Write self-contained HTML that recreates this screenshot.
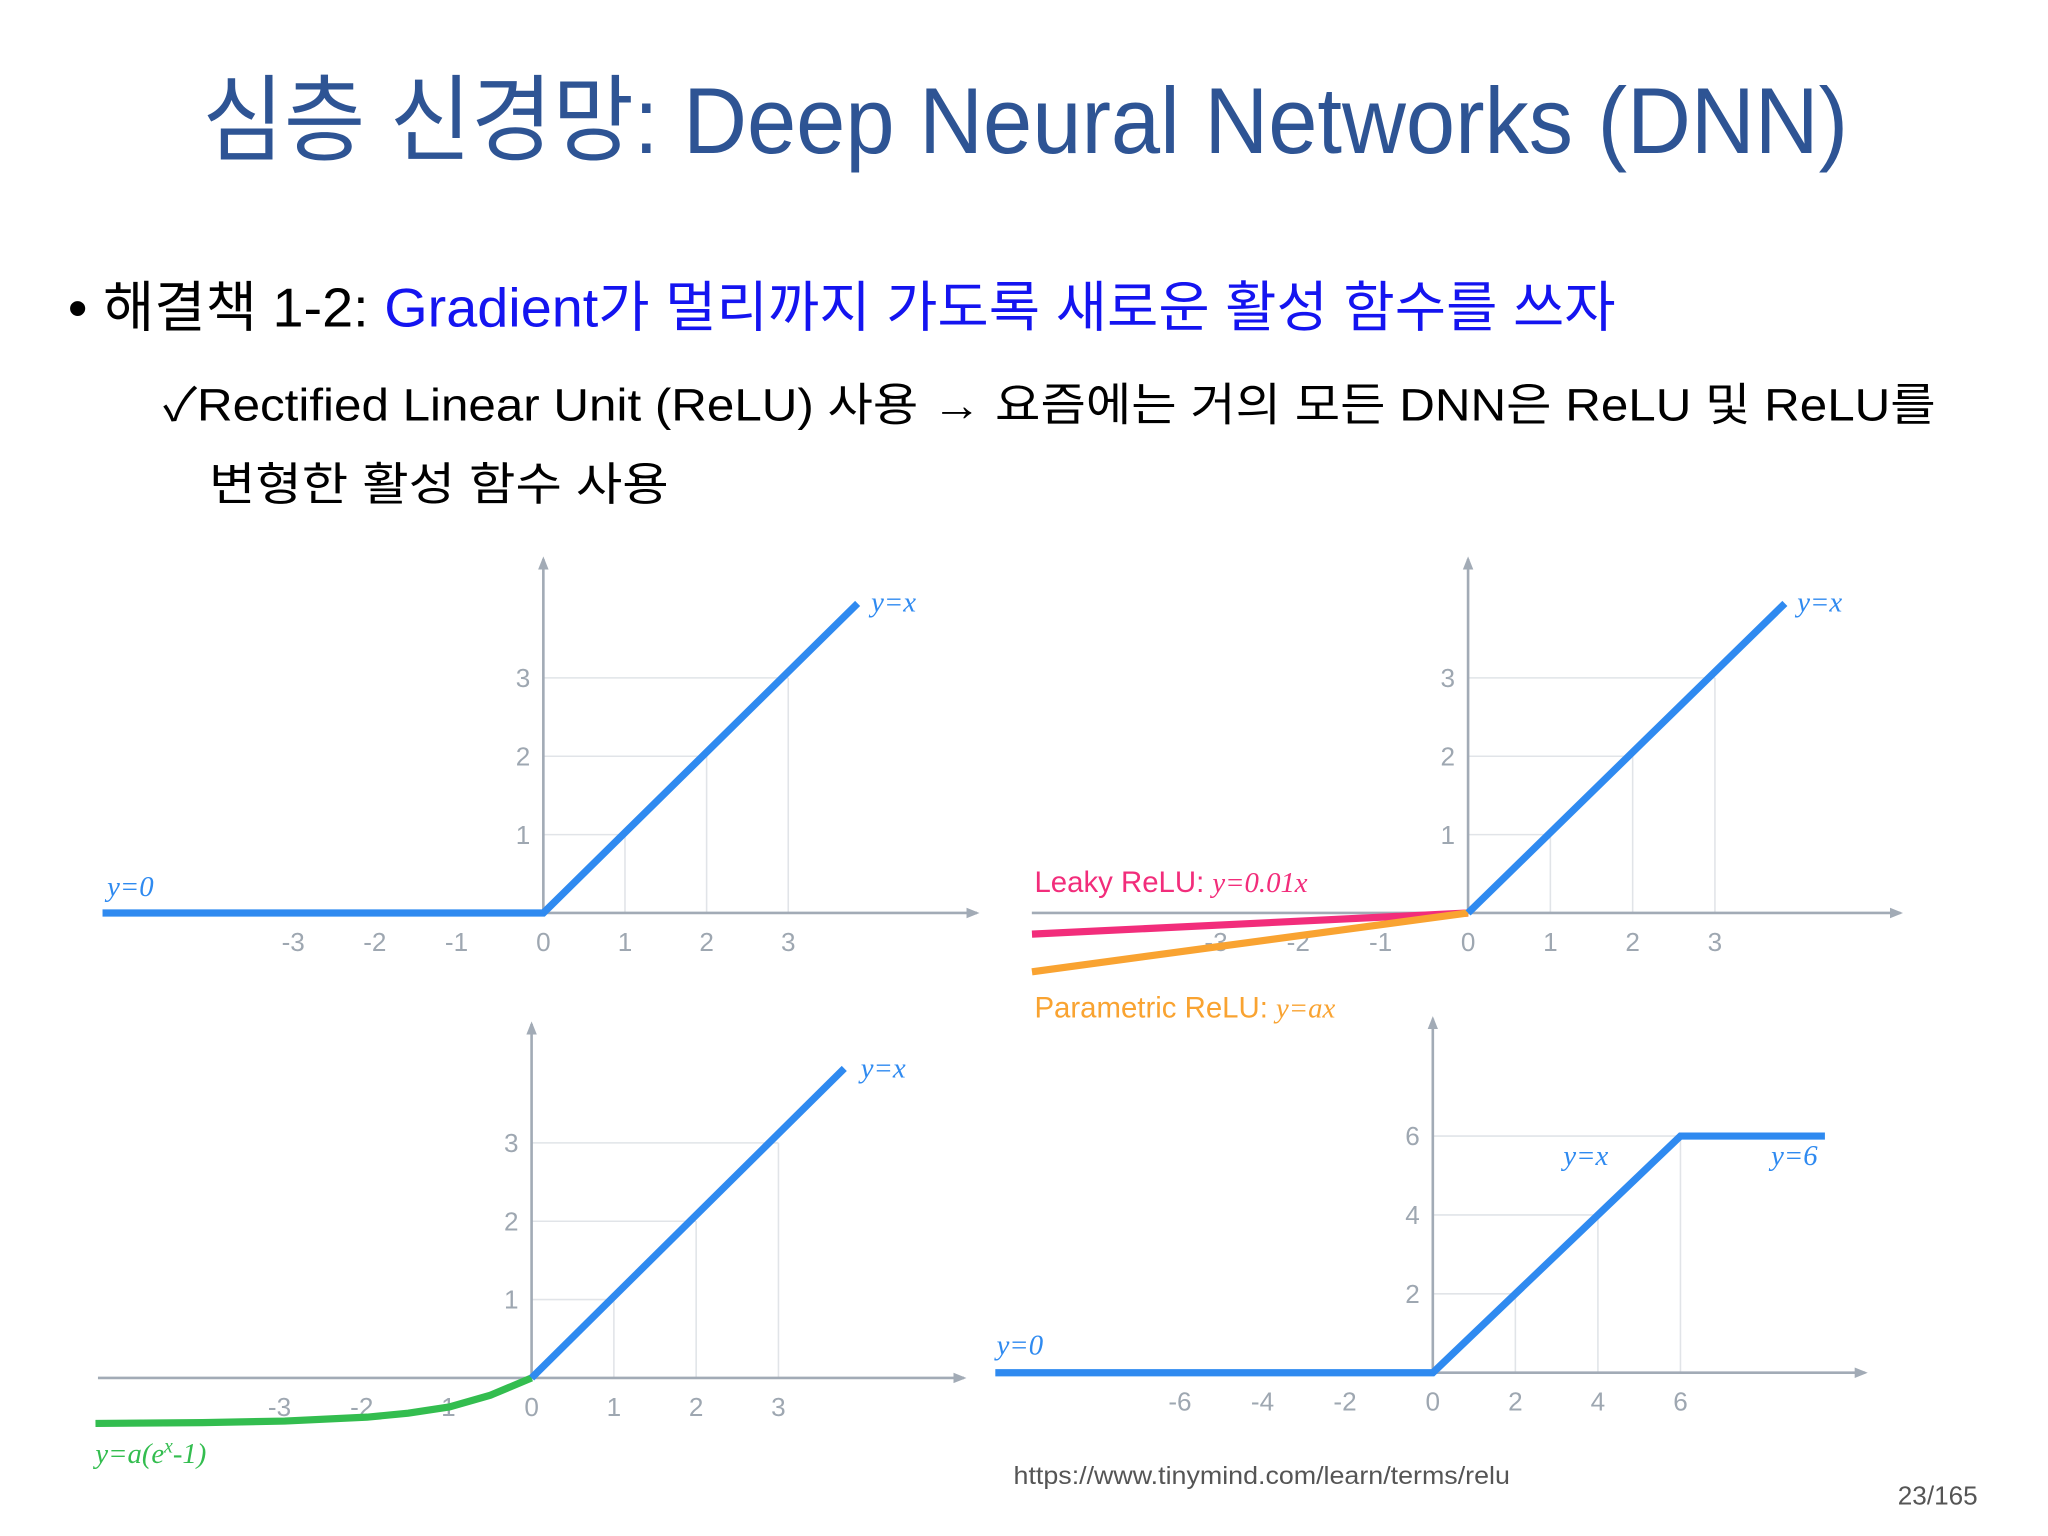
<!DOCTYPE html>
<html><head><meta charset="utf-8">
<style>
html,body{margin:0;padding:0;background:#fff;}
svg{display:block;}
.kr{font-family:"Liberation Sans","Noto Sans CJK KR",sans-serif;}
.tick{font-family:"Liberation Sans","Noto Sans CJK KR",sans-serif;font-size:20px;fill:#9ea7b1;}
.math{font-family:"Liberation Serif",serif;font-style:italic;font-size:22px;}
</style></head>
<body>
<svg id="slide" width="2048" height="1536" viewBox="0 0 1568 1176" xmlns="http://www.w3.org/2000/svg">
<defs>
<marker id="arr" markerWidth="10" markerHeight="10" refX="8" refY="5" orient="auto" markerUnits="userSpaceOnUse"><path d="M0,1 L10,5 L0,9 Z" fill="#a2abb6"/></marker>
</defs>
<text class="kr" x="155" y="117" font-size="72" fill="#2e5494" textLength="1260" lengthAdjust="spacingAndGlyphs">심층 신경망: Deep Neural Networks (DNN)</text>
<text class="kr" x="52" y="250" font-size="42" textLength="1185" lengthAdjust="spacingAndGlyphs"><tspan fill="#000">• 해결책 1-2: </tspan><tspan fill="#1414f0">Gradient가 멀리까지 가도록 새로운 활성 함수를 쓰자</tspan></text>
<text class="kr" x="125" y="322" font-size="35" fill="#000" textLength="1357" lengthAdjust="spacingAndGlyphs">✓Rectified Linear Unit (ReLU) 사용 → 요즘에는 거의 모든 DNN은 ReLU 및 ReLU를</text>
<text class="kr" x="160" y="383" font-size="35" fill="#000" textLength="352" lengthAdjust="spacingAndGlyphs">변형한 활성 함수 사용</text>
<g id="charts"></g>
<text class="kr" x="776" y="1136" font-size="19" fill="#555" textLength="380" lengthAdjust="spacingAndGlyphs">https://www.tinymind.com/learn/terms/relu</text>
<text class="kr" x="1453" y="1152" font-size="20" fill="#555">23/165</text>
</svg>
<script>
// ---- data ----
const c1TicksX = [-3,-2,-1,0,1,2,3];
const c1TicksY = [1,2,3];
const c1GridX = [1,2,3];
const c1ReluX = [-5.4,0,3.85];
const c1ReluY = [0,0,3.95];

const c2TicksX = [-3,-2,-1,0,1,2,3];
const c2TicksY = [1,2,3];
const c2GridX = [1,2,3];
const c2ReluX = [0,3.85];
const c2ReluY = [0,3.95];
const c2LeakyX = [-5.3,0];
const c2LeakyY = [-0.27,0];
const c2ParamX = [-5.3,0];
const c2ParamY = [-0.75,0];

const c3TicksX = [-3,-2,-1,0,1,2,3];
const c3TicksY = [1,2,3];
const c3GridX = [1,2,3];
const c3ReluX = [0,3.8];
const c3ReluY = [0,3.95];
const c3EluX = [-5.3,-4,-3,-2,-1.5,-1,-0.5,0];
const c3EluY = [-0.58,-0.57,-0.55,-0.5,-0.45,-0.37,-0.22,0];

const c4TicksX = [-6,-4,-2,0,2,4,6];
const c4TicksY = [2,4,6];
const c4GridX = [2,4,6];
const c4Relu6X = [-10.6,0,6,9.5];
const c4Relu6Y = [0,0,6,6];

const NS = 'http://www.w3.org/2000/svg';
const root = document.getElementById('charts');
function mk(tag, attrs, parent){
  const e = document.createElementNS(NS, tag);
  for (const k in attrs) e.setAttribute(k, attrs[k]);
  (parent||root).appendChild(e);
  return e;
}
function chart(name, L){
  const g = mk('g', {});
  
  
  const sx = v => L.ox + v*L.ux;
  const sy = v => L.oy - v*L.uy;
  L.gridX.forEach(v => {
    const l = mk('line', {x1:sx(v),y1:L.oy,x2:sx(v),y2:sy(v),stroke:'#e1e4e8','stroke-width':1.2}, g);
    
    
    const h = mk('line', {x1:L.ox,y1:sy(v),x2:sx(v),y2:sy(v),stroke:'#e1e4e8','stroke-width':1.2}, g);
    
    
  });
  const xa = mk('line', {x1:L.xAxisFrom,y1:L.oy,x2:L.xAxisTo,y2:L.oy,stroke:'#a2abb6','stroke-width':2,'marker-end':'url(#arr)'}, g);
  
  
  const ya = mk('line', {x1:L.ox,y1:L.oy,x2:L.ox,y2:L.yAxisTo,stroke:'#a2abb6','stroke-width':2,'marker-end':'url(#arr)'}, g);
  
  
  L.ticksX.forEach(v => {
    const t = mk('text', {x:sx(v)+ (v<0?-4:0), y:L.oy+29, 'text-anchor':'middle', class:'tick'}, g);
    t.textContent = String(v);
    
    
  });
  L.ticksY.forEach(v => {
    const t = mk('text', {x:L.ox-10, y:sy(v)+7, 'text-anchor':'end', class:'tick'}, g);
    t.textContent = String(v);
    
    
  });
  L.series.forEach(s => {
    const pts = s.xs.map((x,i) => sx(x)+','+sy(s.ys[i])).join(' ');
    const p = mk('polyline', {points:pts, fill:'none', stroke:s.color, 'stroke-width':5.5, 'stroke-linejoin':'miter'}, g);
    
    
  });
  L.labels.forEach(lb => {
    const t = mk('text', {x:lb.x, y:lb.y, fill:lb.color, class:lb.cls}, g);
    t.innerHTML = lb.html;
    
    
  });
}
const BLUE='#2f8af0', PINK='#f22d7b', ORANGE='#f9a331', GREEN='#33bd4f';
chart('relu-chart', {ox:416, oy:699, ux:62.5, uy:60, xAxisFrom:416, xAxisTo:748, yAxisTo:428,
  ticksX:c1TicksX, ticksY:c1TicksY, gridX:c1GridX,
  series:[{name:'relu-line', xs:c1ReluX, ys:c1ReluY, color:BLUE}],
  labels:[{name:'label-y-equals-x',x:667,y:468,color:BLUE,cls:'math',html:'y=x'},
          {name:'label-y-equals-0',x:82,y:686,color:BLUE,cls:'math',html:'y=0'}]});
chart('leaky-relu-chart', {ox:1124, oy:699, ux:63, uy:60, xAxisFrom:790, xAxisTo:1455, yAxisTo:428,
  ticksX:c2TicksX, ticksY:c2TicksY, gridX:c2GridX,
  series:[{name:'leaky-relu-line', xs:c2LeakyX, ys:c2LeakyY, color:PINK},
          {name:'parametric-relu-line', xs:c2ParamX, ys:c2ParamY, color:ORANGE},
          {name:'relu-positive-line', xs:c2ReluX, ys:c2ReluY, color:BLUE}],
  labels:[{name:'label-y-equals-x',x:1376,y:468,color:BLUE,cls:'math',html:'y=x'},
          {name:'leaky-relu-label',x:792,y:683,color:PINK,cls:'kr',html:'<tspan font-size="22.5">Leaky ReLU: </tspan><tspan class="math">y=0.01x</tspan>'},
          {name:'parametric-relu-label',x:792,y:779,color:ORANGE,cls:'kr',html:'<tspan font-size="22.5">Parametric ReLU: </tspan><tspan class="math">y=ax</tspan>'}]});
chart('elu-chart', {ox:407, oy:1055, ux:63, uy:60, xAxisFrom:75, xAxisTo:738, yAxisTo:784,
  ticksX:c3TicksX, ticksY:c3TicksY, gridX:c3GridX,
  series:[{name:'elu-negative-curve', xs:c3EluX, ys:c3EluY, color:GREEN},
          {name:'relu-positive-line', xs:c3ReluX, ys:c3ReluY, color:BLUE}],
  labels:[{name:'label-y-equals-x',x:659,y:825,color:BLUE,cls:'math',html:'y=x'},
          {name:'elu-label',x:73,y:1120,color:GREEN,cls:'math',html:'y=a(e<tspan dy="-8" font-size="15">x</tspan><tspan dy="8">-1)</tspan>'}]});
chart('relu6-chart', {ox:1097, oy:1051, ux:31.6, uy:30.2, xAxisFrom:1097, xAxisTo:1428, yAxisTo:780,
  ticksX:c4TicksX, ticksY:c4TicksY, gridX:c4GridX,
  series:[{name:'relu6-line', xs:c4Relu6X, ys:c4Relu6Y, color:BLUE}],
  labels:[{name:'label-y-equals-0',x:763,y:1037,color:BLUE,cls:'math',html:'y=0'},
          {name:'label-y-equals-x',x:1197,y:892,color:BLUE,cls:'math',html:'y=x'},
          {name:'label-y-equals-6',x:1356,y:892,color:BLUE,cls:'math',html:'y=6'}]});
</script>
</body></html>
